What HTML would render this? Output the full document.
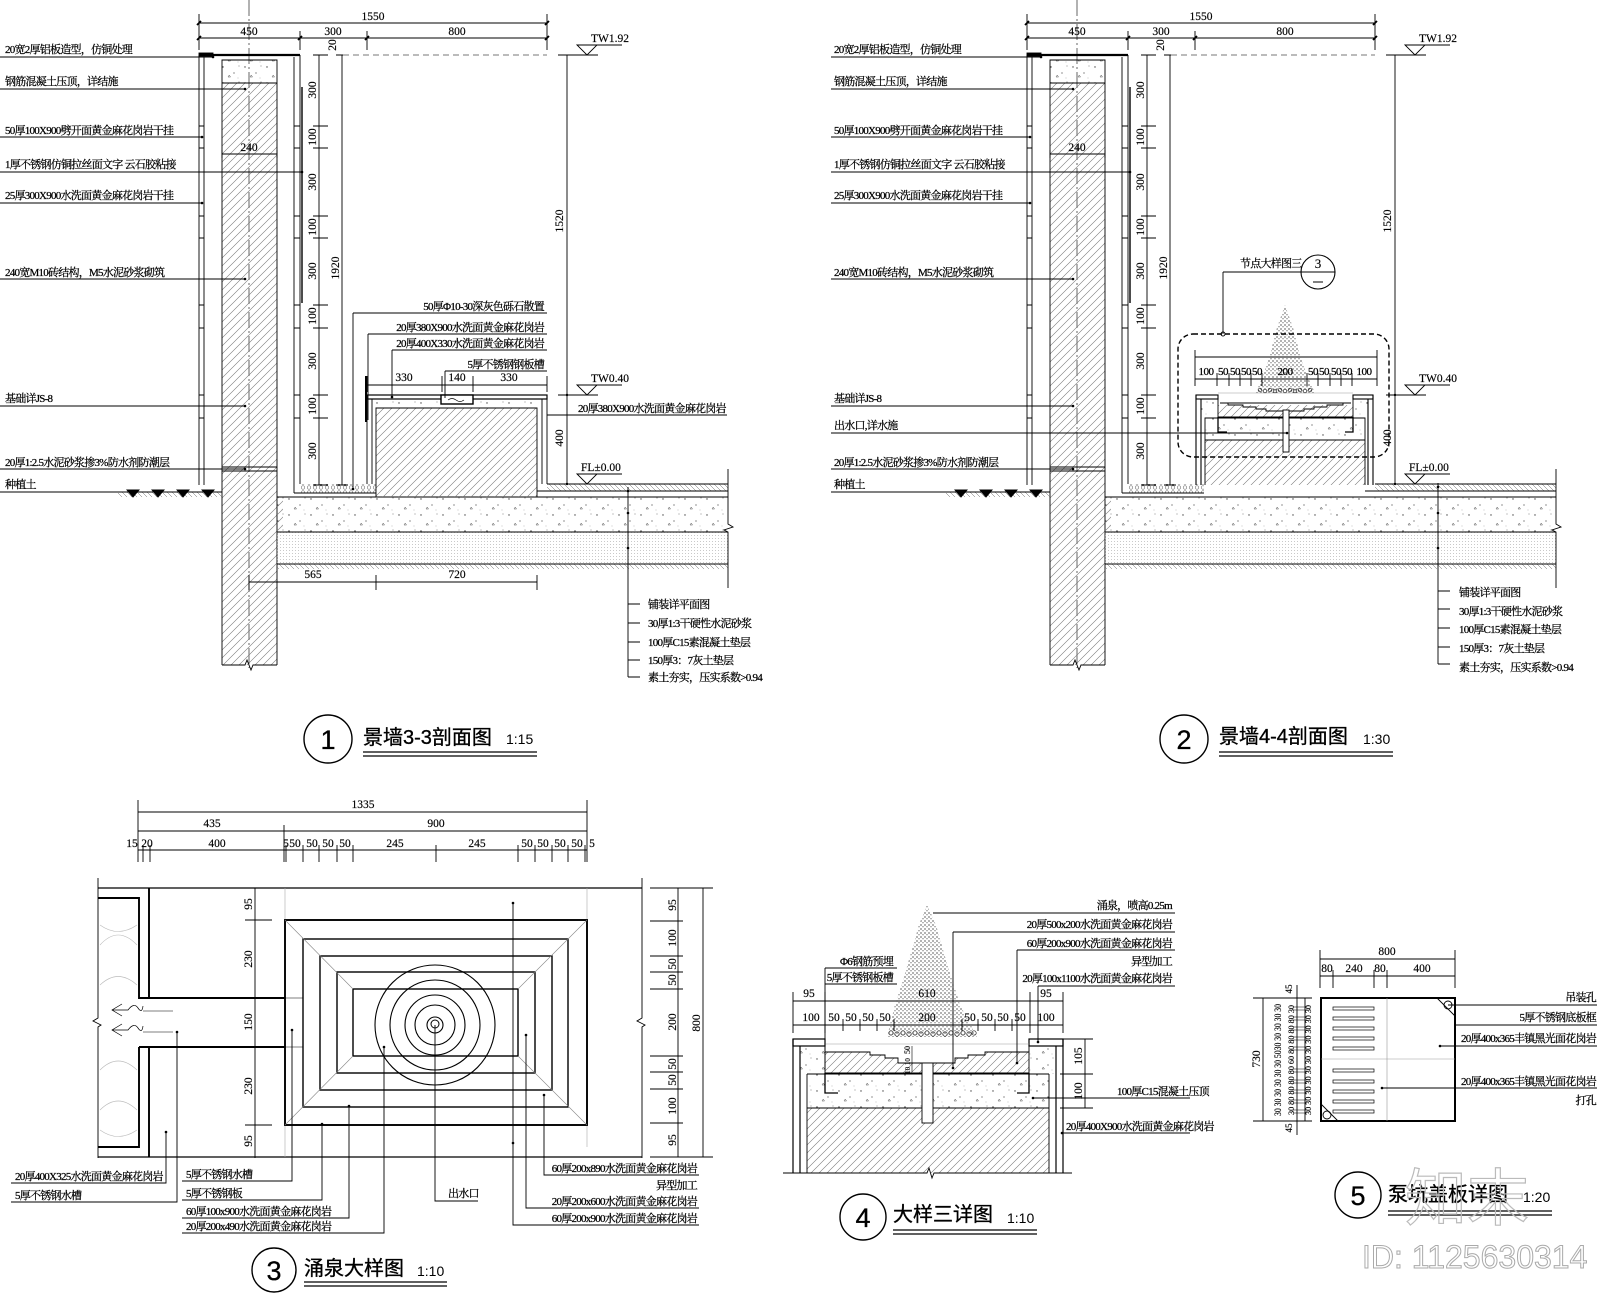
<!DOCTYPE html>
<html><head><meta charset="utf-8"><title>景墙剖面图</title>
<style>
html,body{margin:0;padding:0;background:#fff;}
svg{display:block}
.t{font-family:"Liberation Serif","Noto Serif CJK SC",serif;font-size:11px;letter-spacing:-0.75px;fill:#000;stroke:#000;stroke-width:0.25px}
.d{font-family:"Liberation Serif",serif;font-size:11.5px;fill:#000;stroke:#000;stroke-width:0.15px}
.ti{font-family:"Liberation Sans","Noto Sans CJK SC",sans-serif;font-size:20px;fill:#000;stroke:#000;stroke-width:0.35px}
.sc{font-family:"Liberation Sans",sans-serif;font-size:14px;fill:#000}
.cn{font-family:"Liberation Sans",sans-serif;font-size:27px;fill:#000;stroke:#000;stroke-width:0.3px}
</style></head><body>
<svg width="1600" height="1294" viewBox="0 0 1600 1294" xmlns="http://www.w3.org/2000/svg">
<defs>
<pattern id="h45" width="8" height="8" patternUnits="userSpaceOnUse"><path d="M0,8L8,0M-2,2L2,-2M6,10L10,6" stroke="#777" stroke-width="0.6"/></pattern>
<pattern id="conc" width="22" height="16" patternUnits="userSpaceOnUse"><circle cx="3" cy="3" r="0.7" fill="#444"/><circle cx="14" cy="9" r="0.6" fill="#444"/><path d="M8,13l2.5,0l-1.2,-2z" fill="none" stroke="#555" stroke-width="0.5"/><circle cx="19" cy="2" r="0.5" fill="#666"/><circle cx="18" cy="14" r="0.4" fill="#777"/></pattern>
<pattern id="stip" width="3" height="3" patternUnits="userSpaceOnUse"><rect x="1" y="1" width="0.8" height="0.8" fill="#aaa"/></pattern>
<pattern id="eh" width="5" height="5" patternUnits="userSpaceOnUse"><path d="M0,0L5,5" stroke="#666" stroke-width="0.5"/></pattern>
<pattern id="grav" width="6" height="5" patternUnits="userSpaceOnUse"><circle cx="3" cy="2.5" r="1.8" fill="none" stroke="#555" stroke-width="0.5"/></pattern>
<pattern id="spray" width="4" height="4" patternUnits="userSpaceOnUse"><circle cx="1" cy="1" r="0.65" fill="#111"/><circle cx="3" cy="2.8" r="0.55" fill="#222"/></pattern>
</defs>
<rect width="1600" height="1294" fill="#fff"/>

<!-- ================= SECTION 1 COMMON ================= -->
<g id="sec1common">
<g stroke="#000" fill="none" stroke-width="0.9">
<path d="M199,23H547M199,38H547M199,14V50M547,14V50M300,31V50M367,31V50"/>
<path d="M197,25l4,-4M545,25l4,-4M197,40l4,-4M298,40l4,-4M365,40l4,-4M545,40l4,-4" stroke-width="1.8"/>
<path d="M249,0V668" stroke-width="0.6" stroke-dasharray="16,3,2,3"/>
<rect x="222" y="60" width="55" height="23" fill="url(#conc)" stroke="none"/>
<rect x="222" y="83" width="55" height="582" fill="url(#h45)" stroke="none"/>
<path d="M222,665V60H277V665M222,83H277M222,467H277M222,471H277"/>
<path d="M222,665H245l2,-5l4,10l2,-5H277"/>
<path d="M199,55H300" stroke-width="2.2"/>
<rect x="199" y="53" width="14" height="3" fill="#000"/>
<path d="M199,55V485M204,57V485M294,57V493M300,55V484"/>
<path d="M199,126h5M199,148h5M199,216h5M199,238h5M199,305h5M199,328h5M199,395h5M199,418h5M294,126h6M294,148h6M294,216h6M294,238h6M294,305h6M294,328h6M294,395h6M294,418h6"/>
<path d="M302,87V303" stroke-width="1.4"/>
<path d="M222,154H277M222,150V158M277,150V158"/>
<path d="M319,55V485M313,55H328M313,126H328M313,148H328M313,216H328M313,238H328M313,305H328M313,328H328M313,395H328M313,418H328M313,485H328"/>
<path d="M342,55V485M336,55H348M336,485H348"/>
<path d="M343,55H547" stroke="#777" stroke-dasharray="6,4"/>
<path d="M567,55V484M561,55H573M561,395H573M561,484H573"/>
<path d="M577,45H622M558,55H598M577,385H622M558,395H598M577,474H622"/>
<path d="M577,45H597L587,55ZM577,385H597L587,395ZM577,474H597L587,484Z"/>
<rect x="118" y="492" width="104" height="5" fill="url(#eh)" stroke="none"/>
<path d="M118,492H222"/>
<path d="M127,490h12l-6,7zM152,490h12l-6,7zM177,490h12l-6,7zM202,490h12l-6,7z" fill="#000"/>
<rect x="300" y="484" width="76" height="9" fill="url(#grav)" stroke="none"/>
<path d="M294,493H376"/>
<rect x="277" y="497" width="451" height="35" fill="url(#conc)" stroke="none"/>
<rect x="277" y="532" width="451" height="32" fill="url(#stip)" stroke="none"/>
<rect x="277" y="564" width="451" height="5" fill="url(#eh)" stroke="none"/>
<rect x="277" y="497" width="6" height="35" fill="url(#h45)" stroke="none"/>
<rect x="547" y="484" width="181" height="7" fill="url(#eh)" stroke="none"/>
<path d="M277,497H728M277,532H728M277,564H728M547,484H728M537,491H728"/>
<path d="M728,469V524l5,3l-9,3l4,2V588"/>
</g>
<g class="d" text-anchor="middle">
<text x="373" y="20">1550</text><text x="249" y="35">450</text><text x="333" y="35">300</text><text x="457" y="35">800</text>
<text x="249" y="151">240</text>
<text transform="translate(316,90) rotate(-90)">300</text>
<text transform="translate(316,137) rotate(-90)">100</text>
<text transform="translate(316,182) rotate(-90)">300</text>
<text transform="translate(316,227) rotate(-90)">100</text>
<text transform="translate(316,271) rotate(-90)">300</text>
<text transform="translate(316,316) rotate(-90)">100</text>
<text transform="translate(316,361) rotate(-90)">300</text>
<text transform="translate(316,406) rotate(-90)">100</text>
<text transform="translate(316,451) rotate(-90)">300</text>
<text transform="translate(336,45) rotate(-90)">20</text>
<text transform="translate(339,268) rotate(-90)">1920</text>
<text transform="translate(563,221) rotate(-90)">1520</text>
<text transform="translate(563,438) rotate(-90)">400</text>
</g>
<g class="d"><text x="591" y="42">TW1.92</text><text x="591" y="382">TW0.40</text><text x="581" y="471">FL±0.00</text></g>
<g class="t">
<text x="5" y="53">20宽2厚铝板造型，仿铜处理</text>
<text x="5" y="85">钢筋混凝土压顶，详结施</text>
<text x="5" y="134">50厚100X900劈开面黄金麻花岗岩干挂</text>
<text x="5" y="168">1厚不锈钢仿铜拉丝面文字 云石胶粘接</text>
<text x="5" y="199">25厚300X900水洗面黄金麻花岗岩干挂</text>
<text x="5" y="276">240宽M10砖结构，M5水泥砂浆砌筑</text>
<text x="5" y="402">基础详JS-8</text>
<text x="5" y="466">20厚1:2.5水泥砂浆掺3%防水剂防潮层</text>
<text x="5" y="488">种植土</text>
</g>
<g fill="#000"><circle cx="213" cy="57" r="1.3"/><circle cx="245" cy="89" r="1.3"/><circle cx="202" cy="137" r="1.3"/><circle cx="302" cy="172" r="1.3"/><circle cx="202" cy="203" r="1.3"/><circle cx="245" cy="279" r="1.3"/><circle cx="245" cy="406" r="1.3"/><circle cx="245" cy="469" r="1.3"/></g>
</g>

<!-- ================= SECTION 1 SPECIFIC ================= -->
<g stroke="#000" fill="none" stroke-width="0.9">
<rect x="372" y="399" width="170" height="9" fill="url(#conc)" stroke="none"/>
<rect x="376" y="408" width="161" height="89" fill="url(#h45)" stroke="none"/>
<path d="M376,497V408H537V497"/>
<path d="M367,395V484M372,399V484M542,399V484M547,395V484"/>
<rect x="367" y="395" width="180" height="4" stroke-width="1.2"/>
<rect x="441" y="395" width="32" height="9" fill="#fff" stroke-width="1.4"/>
<path d="M448,400q4,-3 8,0t8,0" stroke-width="0.7"/>
<path d="M366,376V422" stroke-width="2"/>
<path d="M367,385H547M367,376V392M442,376V392M473,376V392M547,376V392"/>
<path d="M353,313H547M353,313V489M368,334H547M368,334V420M392,350H547M392,350V397M445,371H547M445,371V398M547,415H727"/>
<path d="M249,582H537M249,575V590M376,575V590M537,575V590"/>
<path d="M628,487V677M628,604H640M628,623H640M628,642H640M628,660H640M628,677H640"/>
<path d="M0,57H213M0,89H245M0,137H202M0,172H302M0,203H202M0,279H245M0,406H245M0,469H245M0,492H118"/>
</g>
<g fill="#000"><circle cx="353" cy="489" r="1.3"/><circle cx="392" cy="397" r="1.3"/><circle cx="628" cy="491" r="1.3"/><circle cx="628" cy="513" r="1.3"/><circle cx="628" cy="548" r="1.3"/><circle cx="567" cy="395" r="1.2"/><circle cx="567" cy="484" r="1.2"/></g>
<g class="t" text-anchor="end">
<text x="544" y="310">50厚Φ10-30深灰色砾石散置</text>
<text x="544" y="331">20厚380X900水洗面黄金麻花岗岩</text>
<text x="544" y="347">20厚400X330水洗面黄金麻花岗岩</text>
<text x="544" y="368">5厚不锈钢钢板槽</text>
</g>
<g class="t">
<text x="578" y="412">20厚380X900水洗面黄金麻花岗岩</text>
<text x="648" y="608">铺装详平面图</text>
<text x="648" y="627">30厚1:3干硬性水泥砂浆</text>
<text x="648" y="646">100厚C15素混凝土垫层</text>
<text x="648" y="664">150厚3：7灰土垫层</text>
<text x="648" y="681">素土夯实，压实系数&gt;0.94</text>
</g>
<g class="d" text-anchor="middle">
<text x="404" y="381">330</text><text x="457" y="381">140</text><text x="509" y="381">330</text>
<text x="313" y="578">565</text><text x="457" y="578">720</text>
</g>
<!-- title 1 -->
<circle cx="328" cy="739" r="24" fill="none" stroke="#000" stroke-width="1.4"/>
<text class="cn" x="328" y="749" text-anchor="middle">1</text>
<text class="ti" x="363" y="744">景墙3-3剖面图</text>
<text class="sc" x="506" y="744">1:15</text>
<path d="M363,752H537M363,756H537" stroke="#000" stroke-width="1.3"/>

<!-- ================= SECTION 2 COMMON (copy) ================= -->
<g transform="translate(828,0)">
<g stroke="#000" fill="none" stroke-width="0.9">
<path d="M199,23H547M199,38H547M199,14V50M547,14V50M300,31V50M367,31V50"/>
<path d="M197,25l4,-4M545,25l4,-4M197,40l4,-4M298,40l4,-4M365,40l4,-4M545,40l4,-4" stroke-width="1.8"/>
<path d="M249,0V668" stroke-width="0.6" stroke-dasharray="16,3,2,3"/>
<rect x="222" y="60" width="55" height="23" fill="url(#conc)" stroke="none"/>
<rect x="222" y="83" width="55" height="582" fill="url(#h45)" stroke="none"/>
<path d="M222,665V60H277V665M222,83H277M222,467H277M222,471H277"/>
<path d="M222,665H245l2,-5l4,10l2,-5H277"/>
<path d="M199,55H300" stroke-width="2.2"/>
<rect x="199" y="53" width="14" height="3" fill="#000"/>
<path d="M199,55V485M204,57V485M294,57V493M300,55V484"/>
<path d="M199,126h5M199,148h5M199,216h5M199,238h5M199,305h5M199,328h5M199,395h5M199,418h5M294,126h6M294,148h6M294,216h6M294,238h6M294,305h6M294,328h6M294,395h6M294,418h6"/>
<path d="M302,87V303" stroke-width="1.4"/>
<path d="M222,154H277M222,150V158M277,150V158"/>
<path d="M319,55V485M313,55H328M313,126H328M313,148H328M313,216H328M313,238H328M313,305H328M313,328H328M313,395H328M313,418H328M313,485H328"/>
<path d="M342,55V485M336,55H348M336,485H348"/>
<path d="M343,55H547" stroke="#777" stroke-dasharray="6,4"/>
<path d="M567,55V484M561,55H573M561,395H573M561,484H573"/>
<path d="M577,45H622M558,55H598M577,385H622M558,395H598M577,474H622"/>
<path d="M577,45H597L587,55ZM577,385H597L587,395ZM577,474H597L587,484Z"/>
<rect x="118" y="492" width="104" height="5" fill="url(#eh)" stroke="none"/>
<path d="M118,492H222"/>
<path d="M127,490h12l-6,7zM152,490h12l-6,7zM177,490h12l-6,7zM202,490h12l-6,7z" fill="#000"/>
<rect x="300" y="484" width="76" height="9" fill="url(#grav)" stroke="none"/>
<path d="M294,493H376"/>
<rect x="277" y="497" width="451" height="35" fill="url(#conc)" stroke="none"/>
<rect x="277" y="532" width="451" height="32" fill="url(#stip)" stroke="none"/>
<rect x="277" y="564" width="451" height="5" fill="url(#eh)" stroke="none"/>
<rect x="277" y="497" width="6" height="35" fill="url(#h45)" stroke="none"/>
<rect x="547" y="484" width="181" height="7" fill="url(#eh)" stroke="none"/>
<path d="M277,497H728M277,532H728M277,564H728M547,484H728M537,491H728"/>
<path d="M728,469V524l5,3l-9,3l4,2V588"/>
</g>
<g class="d" text-anchor="middle">
<text x="373" y="20">1550</text><text x="249" y="35">450</text><text x="333" y="35">300</text><text x="457" y="35">800</text>
<text x="249" y="151">240</text>
<text transform="translate(316,90) rotate(-90)">300</text>
<text transform="translate(316,137) rotate(-90)">100</text>
<text transform="translate(316,182) rotate(-90)">300</text>
<text transform="translate(316,227) rotate(-90)">100</text>
<text transform="translate(316,271) rotate(-90)">300</text>
<text transform="translate(316,316) rotate(-90)">100</text>
<text transform="translate(316,361) rotate(-90)">300</text>
<text transform="translate(316,406) rotate(-90)">100</text>
<text transform="translate(316,451) rotate(-90)">300</text>
<text transform="translate(336,45) rotate(-90)">20</text>
<text transform="translate(339,268) rotate(-90)">1920</text>
<text transform="translate(563,221) rotate(-90)">1520</text>
<text transform="translate(563,438) rotate(-90)">400</text>
</g>
<g class="d"><text x="591" y="42">TW1.92</text><text x="591" y="382">TW0.40</text><text x="581" y="471">FL±0.00</text></g>
<g class="t">
<text x="6" y="53">20宽2厚铝板造型，仿铜处理</text>
<text x="6" y="85">钢筋混凝土压顶，详结施</text>
<text x="6" y="134">50厚100X900劈开面黄金麻花岗岩干挂</text>
<text x="6" y="168">1厚不锈钢仿铜拉丝面文字 云石胶粘接</text>
<text x="6" y="199">25厚300X900水洗面黄金麻花岗岩干挂</text>
<text x="6" y="276">240宽M10砖结构，M5水泥砂浆砌筑</text>
<text x="6" y="402">基础详JS-8</text>
<text x="6" y="429">出水口,详水施</text>
<text x="6" y="466">20厚1:2.5水泥砂浆掺3%防水剂防潮层</text>
<text x="6" y="488">种植土</text>
</g>
<g fill="#000"><circle cx="213" cy="57" r="1.3"/><circle cx="245" cy="89" r="1.3"/><circle cx="202" cy="137" r="1.3"/><circle cx="302" cy="172" r="1.3"/><circle cx="202" cy="203" r="1.3"/><circle cx="245" cy="279" r="1.3"/><circle cx="245" cy="406" r="1.3"/><circle cx="245" cy="469" r="1.3"/><circle cx="567" cy="395" r="1.2"/><circle cx="567" cy="484" r="1.2"/></g>
</g>

<!-- ================= SECTION 2 SPECIFIC ================= -->
<g stroke="#000" fill="none" stroke-width="0.9">
<rect x="1201" y="399" width="17" height="19" fill="url(#conc)" stroke="none"/>
<rect x="1353" y="399" width="15" height="19" fill="url(#conc)" stroke="none"/>
<rect x="1205" y="418" width="160" height="22" fill="url(#conc)" stroke="none"/>
<rect x="1205" y="440" width="160" height="45" fill="url(#h45)" stroke="none"/>
<rect x="1218" y="405" width="135" height="12" fill="url(#h45)" stroke="none"/>
<path d="M1205,485V418H1365V485M1205,440H1365"/>
<path d="M1196,395V485M1201,399V485M1368,399V485M1373,395V485" stroke-width="1.1"/>
<rect x="1196" y="395" width="22" height="4" stroke-width="1.1"/>
<rect x="1353" y="395" width="20" height="4" stroke-width="1.1"/>
<path d="M1218,399V417H1353V399"/>
<path d="M1218,393H1353" stroke="#999" stroke-width="0.6"/>
<path d="M1220,403H1351M1228,403V405H1243V407H1256V409H1266V411H1304V409H1314V407H1327V405H1343V403"/>
<path d="M1218,417V432H1227M1353,417V432H1345" stroke-width="1.3"/>
<rect x="1283" y="410" width="6" height="42" fill="#fff"/>
<rect x="1178" y="334" width="211" height="123" rx="15" stroke-dasharray="5,3" stroke-width="1.4"/>
<path d="M1195,357H1377M1195,379H1377M1195,350V386M1377,350V386M1217,373V386M1229,373V386M1240,373V386M1251,373V386M1262,373V386M1307,373V386M1318,373V386M1330,373V386M1341,373V386M1352,373V386"/>
<path d="M1223,272H1301M1223,272V334"/>
<circle cx="1223" cy="334" r="2"/>
<circle cx="1318" cy="272" r="17" stroke-width="1.1"/>
<path d="M1301,272H1335M1313,282H1323"/>
<path d="M1438,483V664M1438,591H1450M1438,609H1450M1438,628H1450M1438,647H1450M1438,664H1450"/>
<path d="M831,57H1041M831,89H1073M831,137H1030M831,172H1130M831,203H1030M831,279H1073M831,406H1073M831,433H1287M831,469H1073M831,492H946"/>
</g>
<polygon points="1285,305 1277,328 1270,355 1262,378 1256,393 1315,393 1308,378 1300,355 1293,328" fill="url(#spray)"/>
<g fill="none" stroke="#222" stroke-width="0.7"><circle cx="1260" cy="390" r="1.8"/><circle cx="1265" cy="391" r="1.8"/><circle cx="1270" cy="390" r="1.8"/><circle cx="1275" cy="391" r="1.8"/><circle cx="1280" cy="390" r="1.8"/><circle cx="1285" cy="391" r="1.8"/><circle cx="1290" cy="390" r="1.8"/><circle cx="1295" cy="391" r="1.8"/><circle cx="1300" cy="390" r="1.8"/><circle cx="1305" cy="391" r="1.8"/><circle cx="1310" cy="390" r="1.8"/></g>
<g fill="#000"><circle cx="1287" cy="433" r="1.3"/><circle cx="1438" cy="487" r="1.3"/><circle cx="1438" cy="513" r="1.3"/><circle cx="1438" cy="548" r="1.3"/></g>
<g class="t" text-anchor="middle" style="letter-spacing:-0.5px">
<text x="1206" y="375">100</text><text x="1223" y="375">50</text><text x="1235" y="375">50</text><text x="1246" y="375">50</text><text x="1257" y="375">50</text><text x="1285" y="375">200</text><text x="1313" y="375">50</text><text x="1324" y="375">50</text><text x="1336" y="375">50</text><text x="1347" y="375">50</text><text x="1364" y="375">100</text>
</g>
<text class="t" x="1240" y="267">节点大样图三</text>
<text class="d" x="1318" y="268" text-anchor="middle" style="font-size:13px">3</text>
<g class="t">
<text x="1459" y="596">铺装详平面图</text>
<text x="1459" y="615">30厚1:3干硬性水泥砂浆</text>
<text x="1459" y="633">100厚C15素混凝土垫层</text>
<text x="1459" y="652">150厚3：7灰土垫层</text>
<text x="1459" y="671">素土夯实，压实系数&gt;0.94</text>
</g>
<!-- title 2 -->
<circle cx="1184" cy="739" r="24" fill="none" stroke="#000" stroke-width="1.4"/>
<text class="cn" x="1184" y="749" text-anchor="middle">2</text>
<text class="ti" x="1219" y="743">景墙4-4剖面图</text>
<text class="sc" x="1363" y="744">1:30</text>
<path d="M1219,752H1393M1219,756H1393" stroke="#000" stroke-width="1.3"/>

<!-- ================= SECTION 3 ================= -->
<g stroke="#000" fill="none" stroke-width="0.9">
<path d="M138,812H587M138,831H587M138,850H587"/>
<path d="M138,800V862M587,800V862M284,825V862M143,845V862M150,845V862M286,845V862M303,845V862M319,845V862M337,845V862M353,845V862M436,845V862M518,845V862M535,845V862M552,845V862M568,845V862M585,845V862"/>
<path d="M98,888H642M98,1157H642" stroke-width="1.2"/>
<path d="M98,878V1018l-5,3l8,4l-3,2V1158M642,878V1018l-5,3l8,4l-3,2V1158"/>
<path d="M98,898H139V998H285M149,888V998M139,1047H285M139,1047V1147H98M149,1047V1157" stroke-width="1.9"/>
<path d="M285,998H303M285,1047H303M143,1011H173M143,1032H173" stroke-width="0.6"/>
<path d="M285,888V1157M587,888V1147" stroke="#aaa" stroke-width="0.6"/>
<path d="M100,945Q118,925 137,945M100,985Q118,968 137,985M100,925Q118,938 137,925M100,1070Q118,1052 137,1070M100,1110Q118,1092 137,1110M100,1130Q118,1143 137,1130" stroke="#bbb" stroke-width="0.6"/>
<path d="M122,1004L112,1010L122,1016M112,1010H128Q134,1002 138,1008Q142,1014 143,1006M122,1024L112,1030L122,1036M112,1030H128Q134,1022 138,1028Q142,1034 143,1026" stroke-width="0.7"/>
<rect x="285" y="920" width="302" height="205" stroke-width="1.9"/>
<rect x="303" y="939" width="265" height="168" stroke-width="1.4"/>
<rect x="320" y="956" width="232" height="134" stroke-width="1.4"/>
<rect x="337" y="972" width="198" height="101" stroke-width="1.4"/>
<rect x="353" y="989" width="165" height="67" stroke-width="1.4"/>
<path d="M285,920L353,989M587,920L518,989M285,1125L353,1056M587,1125L518,1056" stroke="#888" stroke-width="0.6"/>
<circle cx="435" cy="1025" r="60" stroke-width="1.1"/><circle cx="435" cy="1025" r="45" stroke-width="1.1"/><circle cx="435" cy="1025" r="30" stroke-width="1.1"/><circle cx="435" cy="1025" r="20" stroke-width="1.1"/><circle cx="435" cy="1025" r="8" stroke-width="1.1"/><circle cx="435" cy="1024" r="4" stroke-width="1"/>
<path d="M255,888V1158M245,888H262M245,920H272M245,998H262M245,1047H262M245,1125H272M245,1157H262"/>
<path d="M678,888V1157M703,888V1157M650,888H713M650,921H683M650,956H683M650,972H683M650,989H683M650,1056H683M650,1072H683M650,1089H683M650,1123H683M650,1157H713"/>
<path d="M11,1183H166V1132M11,1202H177V1032M182,1181H292V1030M182,1200H322V1124M182,1218H349V1106M182,1233H384V1047M435,1025V1201H478"/>
<path d="M544,1095V1175H699M526,1035V1208H699M513,903V1225H699"/>
</g>
<g fill="#000"><circle cx="166" cy="1132" r="1.3"/><circle cx="177" cy="1032" r="1.3"/><circle cx="292" cy="1030" r="1.3"/><circle cx="322" cy="1124" r="1.3"/><circle cx="349" cy="1106" r="1.3"/><circle cx="384" cy="1047" r="1.3"/><circle cx="544" cy="1095" r="1.3"/><circle cx="526" cy="1035" r="1.3"/><circle cx="513" cy="903" r="1.3"/><circle cx="513" cy="1143" r="1.3"/></g>
<g class="d" text-anchor="middle">
<text x="363" y="808">1335</text><text x="212" y="827">435</text><text x="436" y="827">900</text>
<text x="132" y="847">15</text><text x="147" y="847">20</text><text x="217" y="847">400</text><text x="286" y="847">5</text>
<text x="295" y="847">50</text><text x="312" y="847">50</text><text x="328" y="847">50</text><text x="345" y="847">50</text>
<text x="395" y="847">245</text><text x="477" y="847">245</text>
<text x="527" y="847">50</text><text x="543" y="847">50</text><text x="560" y="847">50</text><text x="577" y="847">50</text><text x="592" y="847">5</text>
<text transform="translate(252,904) rotate(-90)">95</text>
<text transform="translate(252,959) rotate(-90)">230</text>
<text transform="translate(252,1022) rotate(-90)">150</text>
<text transform="translate(252,1086) rotate(-90)">230</text>
<text transform="translate(252,1141) rotate(-90)">95</text>
<text transform="translate(676,905) rotate(-90)">95</text>
<text transform="translate(676,938) rotate(-90)">100</text>
<text transform="translate(676,964) rotate(-90)">50</text>
<text transform="translate(676,980) rotate(-90)">50</text>
<text transform="translate(676,1022) rotate(-90)">200</text>
<text transform="translate(676,1064) rotate(-90)">50</text>
<text transform="translate(676,1080) rotate(-90)">50</text>
<text transform="translate(676,1106) rotate(-90)">100</text>
<text transform="translate(676,1140) rotate(-90)">95</text>
<text transform="translate(700,1023) rotate(-90)">800</text>
</g>
<g class="t">
<text x="15" y="1180">20厚400X325水洗面黄金麻花岗岩</text>
<text x="15" y="1199">5厚不锈钢水槽</text>
<text x="186" y="1178">5厚不锈钢水槽</text>
<text x="186" y="1197">5厚不锈钢板</text>
<text x="186" y="1215">60厚100x900水洗面黄金麻花岗岩</text>
<text x="186" y="1230">20厚200x490水洗面黄金麻花岗岩</text>
<text x="448" y="1197">出水口</text>
</g>
<g class="t" text-anchor="end">
<text x="697" y="1172">60厚200x890水洗面黄金麻花岗岩</text>
<text x="697" y="1189">异型加工</text>
<text x="697" y="1205">20厚200x600水洗面黄金麻花岗岩</text>
<text x="697" y="1222">60厚200x900水洗面黄金麻花岗岩</text>
</g>
<circle cx="274" cy="1270" r="22" fill="none" stroke="#000" stroke-width="1.4"/>
<text class="cn" x="274" y="1280" text-anchor="middle">3</text>
<text class="ti" x="304" y="1275">涌泉大样图</text>
<text class="sc" x="417" y="1276">1:10</text>
<path d="M304,1282H447M304,1286H447" stroke="#000" stroke-width="1.3"/>

<!-- ================= SECTION 4 ================= -->
<polygon points="927,905 919,925 912,950 903,980 895,1005 887,1037 977,1037 960,1005 952,980 943,950 936,925" fill="url(#spray)"/>
<g fill="none" stroke="#222" stroke-width="0.7"><circle cx="891" cy="1033" r="2.2"/><circle cx="897" cy="1034" r="2.2"/><circle cx="903" cy="1033" r="2.2"/><circle cx="909" cy="1034" r="2.2"/><circle cx="915" cy="1033" r="2.2"/><circle cx="921" cy="1034" r="2.2"/><circle cx="927" cy="1033" r="2.2"/><circle cx="933" cy="1034" r="2.2"/><circle cx="939" cy="1033" r="2.2"/><circle cx="945" cy="1034" r="2.2"/><circle cx="951" cy="1033" r="2.2"/><circle cx="957" cy="1034" r="2.2"/><circle cx="963" cy="1033" r="2.2"/><circle cx="969" cy="1034" r="2.2"/><circle cx="974" cy="1033" r="2.2"/></g>
<g stroke="#000" fill="none" stroke-width="0.9">
<rect x="807" y="1074" width="242" height="34" fill="url(#conc)" stroke="none"/>
<rect x="807" y="1108" width="242" height="65" fill="url(#h45)" stroke="none"/>
<rect x="800" y="1046" width="25" height="28" fill="url(#conc)" stroke="none"/>
<rect x="1029" y="1046" width="27" height="28" fill="url(#conc)" stroke="none"/>
<path d="M825,1052H843L870,1052V1055H885V1058H898V1063H955V1058H968V1055H985V1052H1029V1073H825Z" fill="url(#h45)" stroke="none"/>
<path d="M807,1074H1049M807,1108H1049M807,1074V1173M1049,1074V1173"/>
<path d="M793,1039V1173M800,1046V1173M1056,1046V1173M1063,1039V1173" stroke-width="1.2"/>
<rect x="793" y="1039" width="32" height="7" stroke-width="1.2"/>
<rect x="1029" y="1039" width="34" height="7" stroke-width="1.2"/>
<path d="M825,1046V1073H1029V1046"/>
<path d="M825,1044H1029" stroke="#999" stroke-width="0.6"/>
<path d="M825,1052H870V1055H885V1058H898V1063H955V1058H968V1055H985V1052H1029"/>
<path d="M825,1073V1093H838M1029,1073V1093H1017" stroke-width="1.3"/>
<rect x="922" y="1063" width="11" height="60" fill="#fff"/>
<path d="M783,1173H927l2,-5l3,10l2,-5H1072"/>
<path d="M793,1001H1063M793,1025H1063M793,992V1033M825,992V1033M1030,992V1033M1063,992V1033M843,1019V1031M860,1019V1031M877,1019V1031M894,1019V1031M962,1019V1031M978,1019V1031M995,1019V1031M1012,1019V1031"/>
<path d="M1085,1039V1108M1060,1039H1093M1060,1074H1093M1060,1108H1093"/>
<path d="M912,1046V1072" stroke-width="0.6"/>
<path d="M933,913H1175M953,932H1175M953,932V1068M1017,950H1175M1017,950V1063M1038,986H1175M1038,986V1042M825,968H897M825,984H897M825,968V1070M1033,1098H1190M1062,1133H1190"/>
</g>
<g fill="#000"><circle cx="953" cy="1068" r="1.3"/><circle cx="1017" cy="1063" r="1.3"/><circle cx="1038" cy="1042" r="1.3"/><circle cx="1033" cy="1098" r="1.3"/><circle cx="1062" cy="1133" r="1.3"/></g>
<g class="t" text-anchor="end">
<text x="1172" y="909">涌泉，喷高0.25m</text>
<text x="1172" y="928">20厚500x200水洗面黄金麻花岗岩</text>
<text x="1172" y="947">60厚200x900水洗面黄金麻花岗岩</text>
<text x="1172" y="965">异型加工</text>
<text x="1172" y="982">20厚100x1100水洗面黄金麻花岗岩</text>
<text x="893" y="965">Φ6钢筋预埋</text>
<text x="893" y="981">5厚不锈钢板槽</text>
</g>
<g class="t">
<text x="1117" y="1095">100厚C15混凝土压顶</text>
<text x="1066" y="1130">20厚400X900水洗面黄金麻花岗岩</text>
</g>
<g class="d" text-anchor="middle">
<text x="809" y="997">95</text><text x="927" y="997">610</text><text x="1046" y="997">95</text>
<text x="811" y="1021">100</text><text x="834" y="1021">50</text><text x="851" y="1021">50</text><text x="868" y="1021">50</text><text x="885" y="1021">50</text>
<text x="927" y="1021">200</text><text x="970" y="1021">50</text><text x="987" y="1021">50</text><text x="1003" y="1021">50</text><text x="1020" y="1021">50</text><text x="1046" y="1021">100</text>
<text transform="translate(1082,1056) rotate(-90)">105</text>
<text transform="translate(1082,1091) rotate(-90)">100</text>
<text transform="translate(910,1050) rotate(-90)" style="font-size:8px">50</text>
<text transform="translate(910,1066) rotate(-90)" style="font-size:7px">10 10</text>
</g>
<circle cx="863" cy="1217" r="23" fill="none" stroke="#000" stroke-width="1.4"/>
<text class="cn" x="863" y="1227" text-anchor="middle">4</text>
<text class="ti" x="893" y="1221">大样三详图</text>
<text class="sc" x="1007" y="1223">1:10</text>
<path d="M893,1230H1037M893,1234H1037" stroke="#000" stroke-width="1.3"/>

<!-- ================= SECTION 5 ================= -->
<g stroke="#000" fill="none" stroke-width="0.9">
<path d="M1320,959H1455M1320,976H1455M1320,950V988M1455,950V988M1333,970V988M1374,970V988M1387,970V988"/>
<rect x="1321" y="998" width="134" height="123" stroke-width="2"/>
<path d="M1387,998V1121M1321,1059H1455" stroke="#999" stroke-width="0.6"/>
<g stroke-width="0.7"><rect x="1333" y="1007" width="41" height="3"/><rect x="1333" y="1017" width="41" height="3"/><rect x="1333" y="1027" width="41" height="3"/><rect x="1333" y="1037" width="41" height="3"/><rect x="1333" y="1047" width="41" height="3"/><rect x="1333" y="1069" width="41" height="3"/><rect x="1333" y="1080" width="41" height="3"/><rect x="1333" y="1090" width="41" height="3"/><rect x="1333" y="1100" width="41" height="3"/><rect x="1333" y="1110" width="41" height="3"/></g>
<circle cx="1448" cy="1005" r="4"/><path d="M1437,998L1455,1016"/>
<circle cx="1327" cy="1115" r="4"/><path d="M1321,1104L1338,1121"/>
<path d="M1263,998V1121M1253,998H1312M1253,1121H1312M1297,985V1135M1305,998V1121"/>
<path d="M1293,1007h14M1293,1010h14M1293,1017h14M1293,1020h14M1293,1027h14M1293,1030h14M1293,1037h14M1293,1040h14M1293,1047h14M1293,1050h14M1293,1069h14M1293,1072h14M1293,1080h14M1293,1083h14M1293,1090h14M1293,1093h14M1293,1100h14M1293,1103h14M1293,1110h14M1293,1113h14" stroke-width="0.6"/>
<path d="M1448,1005H1597M1455,1025H1597M1440,1046H1597M1382,1088H1597"/>
</g>
<g fill="#000"><circle cx="1440" cy="1046" r="1.3"/><circle cx="1382" cy="1088" r="1.3"/></g>
<g class="d" text-anchor="middle">
<text x="1387" y="955">800</text><text x="1327" y="972">80</text><text x="1354" y="972">240</text><text x="1380" y="972">80</text><text x="1422" y="972">400</text>
<text transform="translate(1260,1059) rotate(-90)">730</text>
<text transform="translate(1292,989) rotate(-90)" style="font-size:9px">45</text>
<text transform="translate(1292,1128) rotate(-90)" style="font-size:9px">45</text>
<text transform="translate(1281,1060) rotate(-90)" style="font-size:9px" textLength="112" lengthAdjust="spacingAndGlyphs">30 30 30 30 30 30 5030 30 30 30 30</text>
<text transform="translate(1294,1060) rotate(-90)" style="font-size:8px" textLength="110" lengthAdjust="spacingAndGlyphs">30 80 80 80 80 60 80 80 80 80 30</text>
<text transform="translate(1311,1060) rotate(-90)" style="font-size:8px" textLength="110" lengthAdjust="spacingAndGlyphs">30 30 30 30 30 30 30 30 30 30 30</text>
</g>
<g class="t" text-anchor="end">
<text x="1596" y="1001">吊装孔</text>
<text x="1596" y="1021">5厚不锈钢底板框</text>
<text x="1596" y="1042">20厚400x365丰镇黑光面花岗岩</text>
<text x="1596" y="1085">20厚400x365丰镇黑光面花岗岩</text>
<text x="1596" y="1104">打孔</text>
</g>
<circle cx="1358" cy="1195" r="23" fill="none" stroke="#000" stroke-width="1.4"/>
<text class="cn" x="1358" y="1205" text-anchor="middle">5</text>
<text class="ti" x="1388" y="1201">泵坑盖板详图</text>
<text class="sc" x="1523" y="1202">1:20</text>
<path d="M1388,1211H1552M1388,1215H1552" stroke="#000" stroke-width="1.3"/>

<!-- watermark logo & ID -->
<text x="1405" y="1220" style="font-family:'Noto Sans CJK SC',sans-serif;font-size:62px" fill="none" stroke="#bbb" stroke-width="1.2">知末</text>
<text x="1362" y="1268" style="font-family:'Liberation Sans',sans-serif;font-size:32px" fill="none" stroke="#aaa" stroke-width="1">ID: 1125630314</text>
</svg>
</body></html>
